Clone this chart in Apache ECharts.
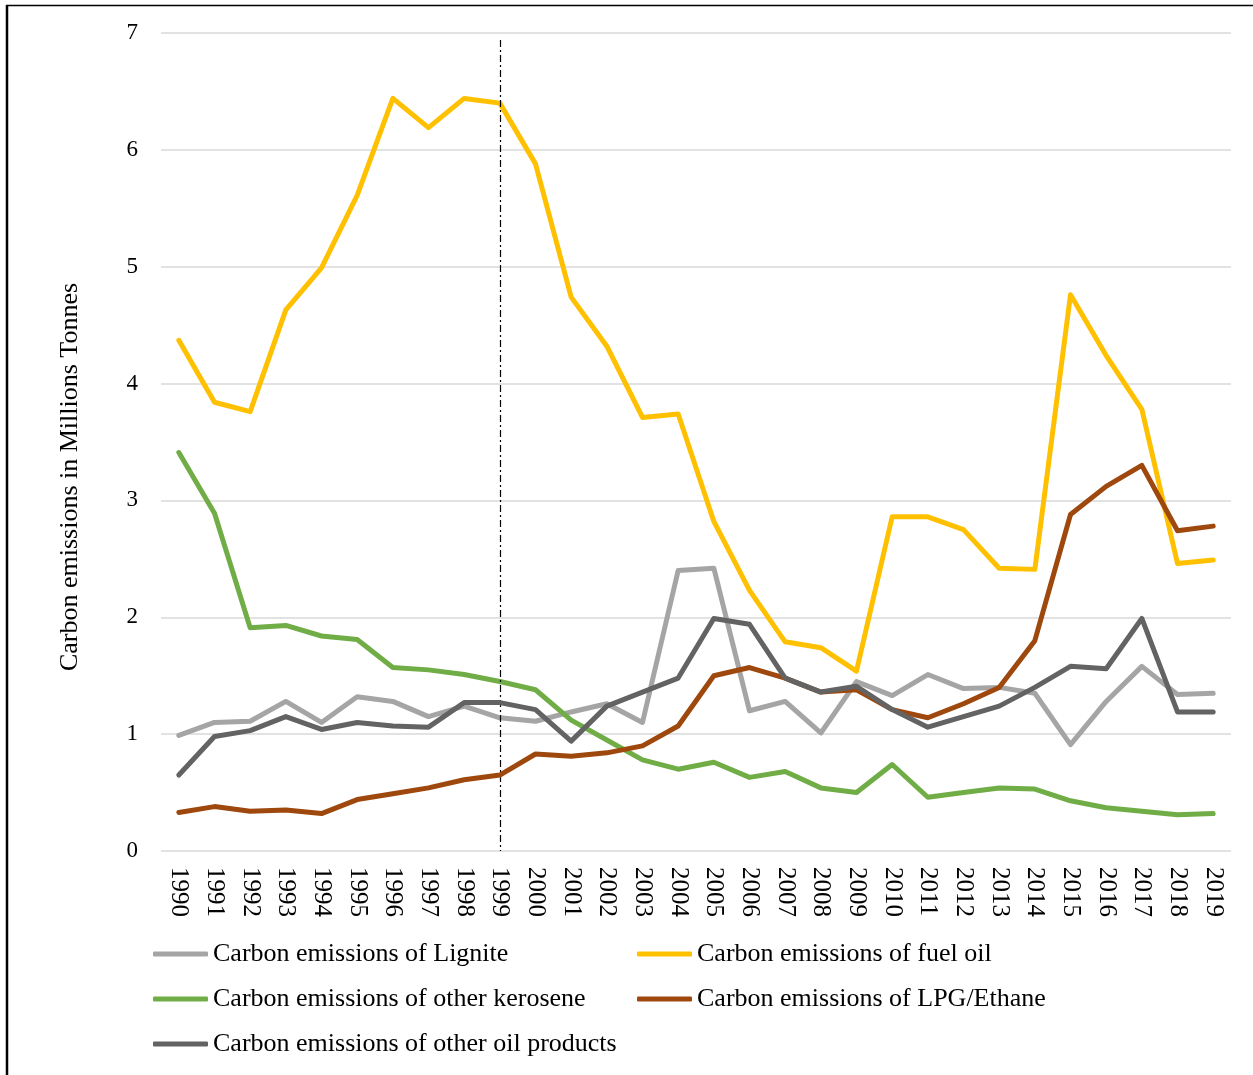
<!DOCTYPE html>
<html>
<head>
<meta charset="utf-8">
<script src="https://cdn.jsdelivr.net/npm/echarts@6/dist/echarts.min.js"></script>
<style>
  html, body { margin: 0; padding: 0; background: #ffffff; }
  #chart { width: 1253px; height: 1075px; }
</style>
</head>
<body>
<div id="chart"></div>
<script>
// Years on the category axis
const years = ['1990','1991','1992','1993','1994','1995','1996','1997','1998','1999',
               '2000','2001','2002','2003','2004','2005','2006','2007','2008','2009',
               '2010','2011','2012','2013','2014','2015','2016','2017','2018','2019'];

// Carbon emissions, millions of tonnes
const lignite = [0.99, 1.10, 1.11, 1.28, 1.10, 1.32, 1.28, 1.15, 1.24, 1.14,
                 1.11, 1.19, 1.26, 1.10, 2.40, 2.42, 1.20, 1.28, 1.01, 1.45,
                 1.33, 1.51, 1.39, 1.40, 1.35, 0.91, 1.28, 1.58, 1.34, 1.35];
const fuelOil = [4.37, 3.84, 3.76, 4.63, 4.99, 5.61, 6.44, 6.19, 6.44, 6.40,
                 5.88, 4.74, 4.32, 3.71, 3.74, 2.82, 2.23, 1.79, 1.74, 1.54,
                 2.86, 2.86, 2.75, 2.42, 2.41, 4.76, 4.24, 3.78, 2.46, 2.49];
const kerosene = [3.41, 2.89, 1.91, 1.93, 1.84, 1.81, 1.57, 1.55, 1.51, 1.45,
                  1.38, 1.12, 0.95, 0.78, 0.70, 0.76, 0.63, 0.68, 0.54, 0.50,
                  0.74, 0.46, 0.50, 0.54, 0.53, 0.43, 0.37, 0.34, 0.31, 0.32];
const lpgEthane = [0.33, 0.38, 0.34, 0.35, 0.32, 0.44, 0.49, 0.54, 0.61, 0.65,
                   0.83, 0.81, 0.84, 0.90, 1.07, 1.50, 1.57, 1.48, 1.36, 1.38,
                   1.21, 1.14, 1.26, 1.40, 1.80, 2.88, 3.12, 3.30, 2.74, 2.78];
const otherOil = [0.65, 0.98, 1.03, 1.15, 1.04, 1.10, 1.07, 1.06, 1.27, 1.27,
                  1.21, 0.94, 1.24, 1.36, 1.48, 1.99, 1.94, 1.48, 1.36, 1.41,
                  1.21, 1.06, 1.15, 1.24, 1.40, 1.58, 1.56, 1.99, 1.19, 1.19];

const names = ['Carbon emissions of Lignite', 'Carbon emissions of fuel oil',
               'Carbon emissions of other kerosene', 'Carbon emissions of LPG/Ethane',
               'Carbon emissions of other oil products'];
const colors = ['#A5A5A5', '#FFC000', '#70AD47', '#9E480E', '#636363'];
const values = [lignite, fuelOil, kerosene, lpgEthane, otherOil];

// Reference year marked with a dash-dot line
const markYear = '1999';
const markTop = 6.94;

const yTitle = 'Carbon emissions in Millions Tonnes';
const serif = '"Liberation Serif", "Times New Roman", serif';

const chart = echarts.init(document.getElementById('chart'));

const legendPos = [
  { left: 153, top: 941 },
  { left: 637, top: 941 },
  { left: 153, top: 986 },
  { left: 637, top: 986 },
  { left: 153, top: 1031 }
];

const series = names.map((n, i) => ({
  name: n,
  type: 'line',
  data: values[i],
  symbol: 'none',
  z: 2 + i,
  lineStyle: { color: colors[i], width: 5, cap: 'round', join: 'round' },
  itemStyle: { color: colors[i] }
}));

series[0].markLine = {
  silent: true,
  symbol: 'none',
  label: { show: false },
  lineStyle: { color: '#000000', width: 1.2, type: [7, 3, 2, 3] },
  data: [[{ coord: [markYear, markTop] }, { coord: [markYear, 0] }]]
};

chart.setOption({
  backgroundColor: '#ffffff',
  animation: false,
  grid: { left: 161, right: 22, top: 33, bottom: 224, containLabel: false },
  legend: names.map((n, i) => ({
    data: [n],
    left: legendPos[i].left,
    top: legendPos[i].top,
    padding: 0,
    icon: 'roundRect',
    itemWidth: 55,
    itemHeight: 5,
    selectedMode: false,
    textStyle: { fontFamily: serif, fontSize: 26, color: '#000000' }
  })),
  xAxis: {
    type: 'category',
    data: years,
    boundaryGap: true,
    axisLine: { show: false },
    axisTick: { show: false },
    axisLabel: {
      rotate: -90,
      margin: 16,
      interval: 0,
      fontFamily: serif,
      fontSize: 25,
      color: '#000000'
    }
  },
  yAxis: {
    type: 'value',
    min: 0,
    max: 7,
    interval: 1,
    axisLine: { show: false },
    axisTick: { show: false },
    axisLabel: { margin: 23, fontFamily: serif, fontSize: 23, color: '#000000' },
    splitLine: { lineStyle: { color: '#D9D9D9', width: 1.5 } }
  },
  graphic: [
    { type: 'text', silent: true, x: 70, y: 477, rotation: Math.PI / 2,
      style: { text: yTitle, font: '26px ' + serif, fill: '#000000',
               align: 'center', verticalAlign: 'middle' } },
    { type: 'line', silent: true, shape: { x1: 6, y1: 5.5, x2: 1253, y2: 5.5 },
      style: { stroke: '#000000', lineWidth: 1.5 } },
    { type: 'line', silent: true, shape: { x1: 7, y1: 5, x2: 7, y2: 1075 },
      style: { stroke: '#000000', lineWidth: 2.5 } }
  ],
  series: series
});
</script>
</body>
</html>
